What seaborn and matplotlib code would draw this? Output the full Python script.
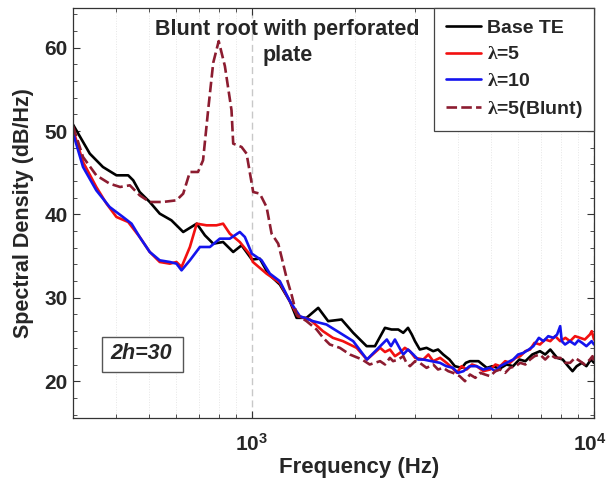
import numpy as np
import pandas as pd
import matplotlib
matplotlib.use("Agg")
import matplotlib.pyplot as plt
import seaborn as sns
from matplotlib.ticker import FixedLocator, NullFormatter, MultipleLocator
from matplotlib.patches import Rectangle
from matplotlib.transforms import ScaledTranslation

# ---- data ----
base_f = [300, 336, 367, 402, 435, 450, 470, 503, 538, 582, 630, 690, 729, 771, 824, 882, 933,
          1000, 1055, 1116, 1207, 1291, 1351, 1445, 1563, 1671, 1829, 1978, 2165, 2289, 2449,
          2560, 2678, 2770, 2860, 2934, 2997, 3096, 3240, 3389, 3500, 3625, 3780, 3919, 4104,
          4220, 4339, 4596, 4858, 5050, 5300, 5550, 5800, 6050, 6300, 6600, 6951, 7200, 7451,
          7800, 8100, 8400, 8654, 8900, 9220, 9500, 9800, 10000]
base_db = [50.8, 47.3, 45.7, 44.7, 44.7, 44.1, 42.7, 41.5, 40.1, 39.3, 37.9, 38.9, 37.5, 36.5,
           36.7, 35.5, 36.3, 34.6, 34.7, 32.9, 31.6, 29.6, 27.6, 27.6, 28.8, 27.2, 27.4, 25.8,
           24.2, 24.2, 26.4, 26.2, 26.2, 25.8, 26.4, 25.6, 24.8, 23.8, 24.0, 23.6, 23.8, 23.2,
           22.6, 21.8, 21.6, 22.2, 22.4, 22.4, 21.6, 21.8, 21.5, 22.0, 21.8, 22.6, 22.4, 23.2,
           23.6, 23.2, 23.8, 22.8, 22.6, 21.8, 21.2, 21.8, 22.2, 21.8, 22.6, 22.2]

l5_f = [300, 321, 351, 376, 402, 435, 470, 503, 538, 576, 602, 623, 659, 690, 737, 788, 824,
        862, 922, 987, 1007, 1104, 1207, 1291, 1362, 1478, 1613, 1725, 1846, 2024, 2170, 2370,
        2450, 2532, 2620, 2709, 2800, 2897, 3000, 3170, 3280, 3389, 3550, 3707, 3850, 3974,
        4100, 4244, 4400, 4538, 4750, 4969, 5150, 5317, 5500, 5680, 5900, 6087, 6300, 6504,
        6700, 6951, 7200, 7451, 7700, 7964, 8250, 8513, 8800, 9100, 9400, 9727, 9850, 10000]
l5_db = [50.2, 46.3, 43.3, 41.3, 39.7, 39.1, 37.3, 35.5, 34.3, 34.1, 34.3, 33.7, 36.1, 38.9,
         38.7, 38.7, 38.9, 37.7, 36.7, 35.2, 34.3, 32.9, 31.8, 29.6, 27.8, 27.4, 26.0, 25.2,
         24.8, 24.0, 22.6, 24.0, 23.5, 23.8, 23.0, 23.4, 24.0, 23.6, 22.8, 22.6, 23.2, 22.4,
         22.8, 22.2, 21.6, 21.0, 21.8, 21.4, 22.0, 21.8, 21.2, 21.4, 22.0, 21.8, 22.4, 22.2,
         22.8, 23.0, 23.6, 23.8, 24.6, 24.4, 25.0, 24.8, 25.4, 24.8, 25.2, 24.8, 25.4, 25.2,
         25.0, 25.6, 26.0, 25.0]

l10_f = [300, 321, 351, 384, 420, 445, 470, 503, 538, 576, 602, 623, 659, 705, 754, 806, 862,
         922, 954, 1000, 1068, 1129, 1207, 1291, 1381, 1510, 1652, 1808, 1978, 2170, 2480,
         2550, 2619, 2700, 2770, 2860, 2964, 3060, 3170, 3350, 3547, 3700, 3870, 4000, 4153,
         4330, 4538, 4750, 4969, 5150, 5317, 5550, 5806, 6000, 6220, 6450, 6649, 6900, 7115,
         7350, 7617, 7800, 7964, 8050, 8228, 8500, 8791, 9000, 9232, 9500, 9840, 10000]
l10_db = [49.8, 45.7, 42.9, 40.9, 39.7, 38.9, 37.3, 35.5, 34.5, 34.3, 34.1, 33.3, 34.5, 36.1,
          36.1, 37.1, 37.1, 37.9, 37.3, 35.3, 34.5, 32.9, 32.0, 29.6, 27.8, 27.2, 26.8, 25.8,
          24.8, 22.6, 25.0, 24.2, 25.0, 24.0, 23.2, 23.8, 23.2, 22.6, 22.6, 22.4, 22.2, 21.8,
          21.6, 21.0, 21.2, 21.8, 21.8, 21.4, 21.6, 21.2, 21.8, 22.2, 22.6, 23.2, 23.4, 23.8,
          24.2, 25.2, 24.8, 25.4, 25.2, 25.6, 26.6, 24.8, 24.4, 24.8, 24.4, 24.9, 24.6, 24.2,
          24.8, 24.4]

blunt_f = [300, 321, 351, 384, 412, 440, 470, 503, 549, 602, 630, 659, 696, 720, 745, 771, 800,
           834, 872, 882, 933, 965, 1009, 1055, 1104, 1142, 1194, 1221, 1263, 1306, 1351, 1445,
           1546, 1616, 1690, 1808, 1934, 2100, 2210, 2370, 2450, 2532, 2587, 2680, 2770, 2830,
           2897, 3000, 3096, 3240, 3389, 3500, 3625, 3750, 3870, 4050, 4196, 4339, 4500, 4650,
           4800, 4969, 5150, 5317, 5500, 5680, 5900, 6087, 6300, 6504, 6700, 6951, 7200, 7451,
           7700, 7964, 8250, 8513, 8800, 9100, 9400, 9727, 9900, 10000]
blunt_db = [50.6, 46.9, 44.7, 43.7, 43.3, 43.5, 42.3, 41.5, 41.5, 41.7, 42.5, 45.1, 45.1, 46.5,
            52.5, 58.2, 60.8, 57.8, 52.5, 48.5, 48.1, 47.3, 42.7, 42.5, 40.9, 37.7, 36.5, 34.9,
            32.4, 30.4, 28.0, 27.2, 26.2, 25.2, 24.4, 24.0, 23.2, 22.6, 22.0, 22.4, 22.0, 22.8,
            22.4, 22.6, 23.0, 22.2, 21.8, 22.4, 22.2, 21.6, 22.0, 21.4, 21.6, 21.2, 21.0, 20.6,
            20.0, 20.8, 20.4, 21.0, 20.8, 20.6, 21.2, 21.4, 21.0, 21.6, 21.8, 22.2, 22.0, 22.6,
            23.0, 23.2, 22.6, 23.2, 22.8, 22.8, 22.2, 22.2, 22.8, 22.4, 22.0, 22.6, 23.0, 22.2]

series_names = ["Base TE", r"$\lambda$=5", r"$\lambda$=10", r"$\lambda$=5(Blunt)"]
colors = ["#000000", "#f21010", "#1414ee", "#8c1c30"]

frames = []
for name, f, d in zip(series_names, [base_f, l5_f, l10_f, blunt_f],
                      [base_db, l5_db, l10_db, blunt_db]):
    frames.append(pd.DataFrame({"Frequency": f, "SPL": d, "series": name}))
df = pd.concat(frames, ignore_index=True)

sns.set_theme(style="white")
plt.rcParams["font.family"] = ["Liberation Sans", "DejaVu Sans"]
plt.rcParams["font.weight"] = "bold"
plt.rcParams["mathtext.fontset"] = "custom"
plt.rcParams["mathtext.bf"] = "Liberation Sans:bold"
plt.rcParams["mathtext.rm"] = "Liberation Sans:bold"
plt.rcParams["mathtext.it"] = "Liberation Serif"

fig = plt.figure(figsize=(6.08, 4.87), dpi=100)
ax = fig.add_axes([0.120, 0.142, 0.857, 0.842])

ax.set_xscale("log")
ax.set_xlim(300, 10000)
ax.set_ylim(15.6, 64.8)

# grid
ax.grid(which="minor", axis="x", color="#e6e6e6", lw=0.7, ls=":")
ax.grid(which="major", axis="x", color="#c8c8c8", lw=1.0, ls=(0, (5, 3)))
ax.grid(which="both", axis="y", visible=False)
ax.set_axisbelow(True)

dash_styles = {series_names[0]: "", series_names[1]: "", series_names[2]: "",
               series_names[3]: (4, 1.6)}
sns.lineplot(data=df, x="Frequency", y="SPL", hue="series", style="series",
             hue_order=series_names, style_order=series_names,
             palette=colors, dashes=dash_styles, estimator=None, sort=False,
             lw=1.9, ax=ax, legend=True)

# ticks
ax.xaxis.set_major_locator(FixedLocator([1000, 10000]))
ax.set_xticklabels([r"$\mathbf{10^3}$", r"$\mathbf{10^4}$"])
minors = [m * 10 ** e for e in (2, 3) for m in range(2, 10)]
ax.xaxis.set_minor_locator(FixedLocator(minors))
ax.xaxis.set_minor_formatter(NullFormatter())
ax.yaxis.set_major_locator(FixedLocator([20, 30, 40, 50, 60]))
ax.yaxis.set_minor_locator(MultipleLocator(2))
ax.tick_params(which="both", direction="in", top=True, right=True,
               bottom=True, left=True, color="#333333")
ax.tick_params(which="major", length=5, width=0.8, labelsize=15)
ax.tick_params(axis="x", which="major", pad=11)
ax.tick_params(axis="y", which="major", pad=4)
ax.tick_params(which="minor", length=3, width=0.6)
for lab in ax.get_yticklabels():
    lab.set_fontweight("bold")
# the last x label sits at the figure edge; nudge it inward a little
xlabs = ax.get_xticklabels()
xlabs[-1].set_transform(xlabs[-1].get_transform()
                        + ScaledTranslation(-4 / 100, 0, fig.dpi_scale_trans))
for sp in ax.spines.values():
    sp.set_color("#333333")
    sp.set_linewidth(0.9)

ax.set_xlabel("Frequency (Hz)", fontsize=16, fontweight="bold", labelpad=6)
ax.xaxis.set_label_coords(0.549, -0.095)
ax.set_ylabel("Spectral Density (dB/Hz)", fontsize=15.5, fontweight="bold", labelpad=7)

# legend
handles, labels = ax.get_legend_handles_labels()
leg = ax.legend(handles, labels, loc="upper right", bbox_to_anchor=(1.0, 1.0),
                borderaxespad=0, fancybox=False, framealpha=1, edgecolor="#444444",
                prop={"weight": "bold", "size": 14}, handlelength=1.8,
                handletextpad=0.3, labelspacing=0.45, borderpad=0.6)
leg.get_frame().set_linewidth(0.9)

# annotations
ax.text(0.412, 0.972, "Blunt root with perforated\nplate", transform=ax.transAxes,
        ha="center", va="top", fontsize=15.5, fontweight="bold", linespacing=1.3)
ax.add_patch(Rectangle((0.055, 0.113), 0.1555, 0.085, transform=ax.transAxes,
                       fc="white", ec="#555555", lw=1.0, zorder=5))
ax.text(0.131, 0.156, "2h=30", transform=ax.transAxes, ha="center", va="center",
        fontsize=15.5, fontweight="bold", fontstyle="italic", zorder=6)

fig.savefig("out.png", dpi=100)
